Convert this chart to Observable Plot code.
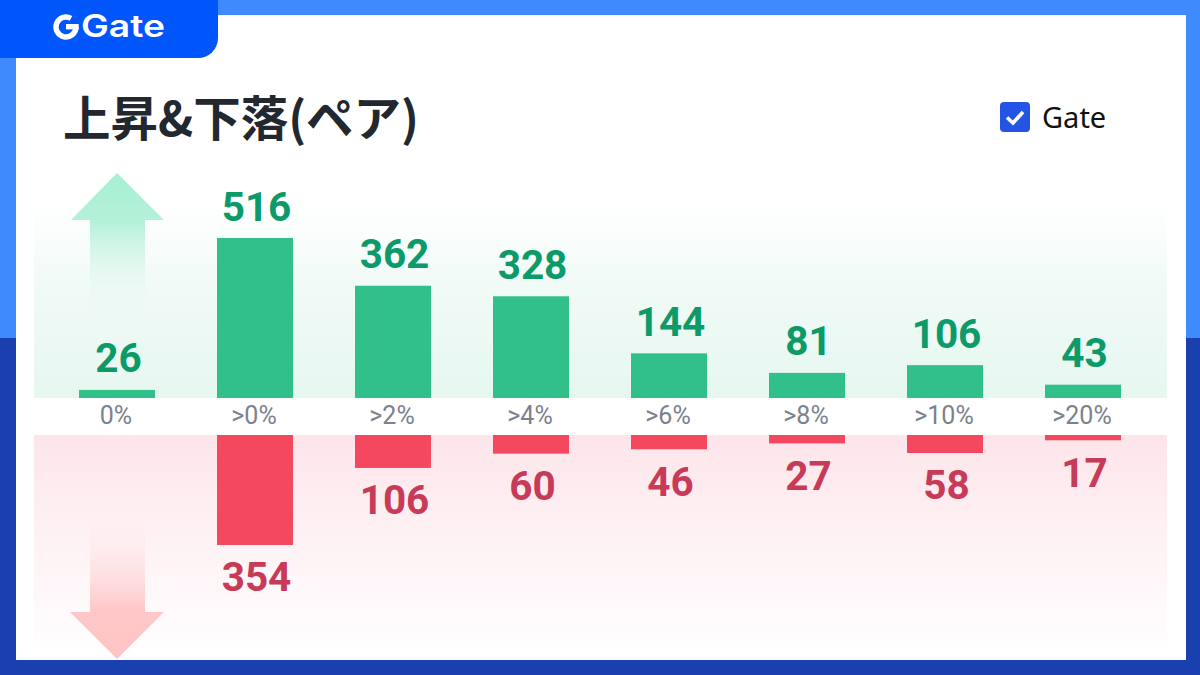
<!DOCTYPE html>
<html lang="ja">
<head>
<meta charset="utf-8">
<script src="https://cdn.jsdelivr.net/npm/d3@7"></script>
<script src="https://cdn.jsdelivr.net/npm/@observablehq/plot@0.6"></script>
<style>
html,body{margin:0;padding:0;background:#fff}
#page{position:relative;width:1200px;height:675px;overflow:hidden;background:linear-gradient(#3e8bfd 0 338px,#1a3fae 338px)}
#page>*{position:absolute}
#sheet{left:16px;top:15px;width:1170px;height:645px;background:#fff}
#tab{left:0;top:0;width:218px;height:58px;background:#0055fb;border-bottom-right-radius:20px}
#brand{left:81px;top:6px;font:600 31px/40px Inter,sans-serif;color:#fff;transform:scaleX(1.2);transform-origin:left center}
#title{left:63px;top:83px;font:700 47.5px/66px "Noto Sans CJK JP",sans-serif;color:#23272e;white-space:nowrap}
#lg{left:1042px;top:97px;font:400 29px/40px "Noto Sans",sans-serif;color:#111;white-space:nowrap}
#upband{left:34px;top:200px;width:1133px;height:198px;background:linear-gradient(rgba(230,247,240,0),rgba(230,247,240,.6) 45%,#e6f7f0)}
#downband{left:34px;top:435px;width:1133px;height:215px;background:linear-gradient(#fde5ea,rgba(253,229,234,.5) 50%,rgba(253,229,234,.05))}
svg.deco{left:0;top:0}
#chart{left:0;top:0}
</style>
</head>
<body>
<div id="page">
  <div id="sheet"></div>
  <div id="upband"></div>
  <div id="downband"></div>
  <div id="tab"></div>
  <svg class="deco" width="1200" height="675" viewBox="0 0 1200 675">
    <defs>
      <linearGradient id="ug" x1="0" y1="173" x2="0" y2="312" gradientUnits="userSpaceOnUse">
        <stop offset="0" stop-color="#a6f0d2"/><stop offset=".35" stop-color="#b4f1d9"/><stop offset="1" stop-color="#e9f8f2" stop-opacity="0"/>
      </linearGradient>
      <linearGradient id="dg" x1="0" y1="515" x2="0" y2="659" gradientUnits="userSpaceOnUse">
        <stop offset="0" stop-color="#fdeaec" stop-opacity="0"/><stop offset=".65" stop-color="#ffc8c8"/><stop offset="1" stop-color="#ffc4c4"/>
      </linearGradient>
    </defs>
    <path d="M117 173L164 220H145V312H90V220H71Z" fill="url(#ug)"/>
    <path d="M90 515H145V612H164L117 659L70 612H90Z" fill="url(#dg)"/>
    <rect x="1000" y="102" width="30" height="30" rx="4" fill="#2354e6"/>
    <path d="M1007 117.5L1013 123L1023 112" fill="none" stroke="#fff" stroke-width="3.6"/>
    <path d="M71 18.3A10 10 0 1 0 76 27" fill="none" stroke="#fff" stroke-width="5.4"/>
    <rect x="66" y="24" width="12.7" height="5.4" fill="#fff"/>
  </svg>
  <div id="brand">Gate</div>
  <div id="title">上昇&amp;下落(ペア)</div>
  <div id="lg">Gate</div>
  <div id="chart"></div>
</div>
<script>
const categories = ["0%", ">0%", ">2%", ">4%", ">6%", ">8%", ">10%", ">20%"];
const upValues = [26, 516, 362, 328, 144, 81, 106, 43];
const downValues = [null, 354, 106, 60, 46, 27, 58, 17];

const gain = categories.map((c, i) => ({c, v: upValues[i]}));
const loss = categories.map((c, i) => ({c, v: downValues[i]})).filter(d => d.v != null);
const eps = 1e-6;
const num = {fontFamily: "Roboto, sans-serif", fontWeight: 700, fontSize: 40.5};

const plot = Plot.plot({
  width: 1200,
  height: 675,
  style: {background: "transparent"},
  x: {domain: categories, range: [47.5, 1152.5], paddingInner: 0.45, paddingOuter: 0.225, axis: null},
  y: {type: "linear", domain: [-354, -eps, eps, 516], range: [545, 435, 398, 238], axis: null},
  marks: [
    Plot.barY(gain, {x: "c", y1: eps, y2: "v", fill: "#32c08a"}),
    Plot.barY(loss, {x: "c", y1: -eps, y2: d => -d.v, fill: "#f4485e"}),
    Plot.text(gain, {x: "c", y: "v", text: d => String(d.v), dx: 1, dy: -18, lineAnchor: "bottom", fill: "#0b9a68", ...num}),
    Plot.text(loss, {x: "c", y: d => -d.v, text: d => String(d.v), dx: 1, dy: 17, lineAnchor: "top", fill: "#c73a58", ...num}),
    Plot.text(categories, {x: d => d, y: eps, text: d => d, dx: -1.5, dy: 8, lineAnchor: "top", fill: "#7b818d",
      fontFamily: "Roboto, sans-serif", fontSize: 25})
  ]
});
document.getElementById("chart").append(plot);
</script>
</body>
</html>
